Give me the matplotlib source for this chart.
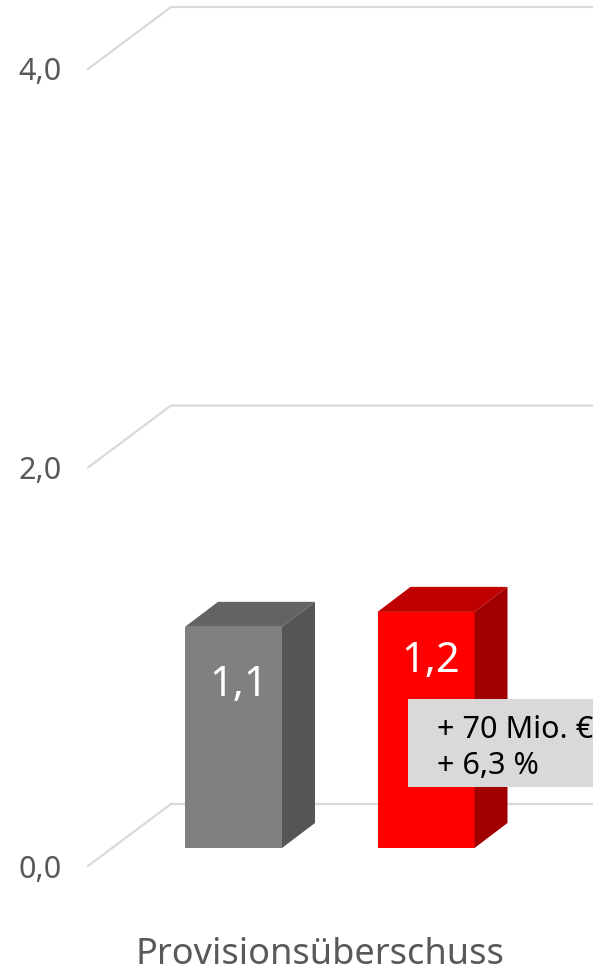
import matplotlib
matplotlib.use("Agg")
from matplotlib import pyplot as plt
from matplotlib.patches import Polygon, Rectangle

categories = ['Provisionsüberschuss']
values = [1.11, 1.185]
value_labels = ['1,1', '1,2']
ticks = [0.0, 2.0, 4.0]
tick_labels = ['0,0', '2,0', '4,0']
note_lines = ['+ 70 Mio. €', '+ 6,3 %']

W, H = 593, 972
PX_Y = 199.25   # pixels per unit on the value axis
PX_X = 192.5    # pixels between the two bars
FLOOR = 848     # pixel row of the bar foot

plt.rcParams['font.family'] = ['Noto Sans', 'DejaVu Sans']

fig = plt.figure(figsize=(W / 100, H / 100), dpi=100)
ax = fig.add_axes([0, 0, 1, 1])
ax.set_xlim(-233.5 / PX_X, (W - 233.5) / PX_X)
ax.set_ylim(-(H - FLOOR) / PX_Y, FLOOR / PX_Y)
ax.axis('off')

def dx(px):
    return px / PX_X

def dy(px):
    return px / PX_Y

# gridlines, slanted wall then back wall
for tick, label in zip(ticks, tick_labels):
    y0 = tick - dy(18)
    y1 = y0 + dy(62)
    x0 = -dx(145.5)
    x1 = -dx(62.5)
    ax.plot([x0, x1, dx(W)], [y0, y1, y1], color='#d9d9d9', lw=1.6, zorder=1)
    ax.text(x0 - dx(48), y0, label, color='#595959', fontsize=22,
            ha='center', va='center_baseline')

# 3d bars
colors = [('#808080', '#636363', '#555555'), ('#ff0000', '#c00000', '#a00000')]
label_drop = [53, 44]
half = dx(48.5)
depth_x = dx(33)
depth_y = dy(25)
for i, (val, label) in enumerate(zip(values, value_labels)):
    front, top, side = colors[i]
    ax.add_patch(Rectangle((i - half, 0), 2 * half, val, fc=front, ec='none', zorder=3))
    ax.add_patch(Polygon([(i - half, val), (i + half, val),
                          (i + half + depth_x, val + depth_y),
                          (i - half + depth_x, val + depth_y)], fc=top, ec='none', zorder=3))
    ax.add_patch(Polygon([(i + half, 0), (i + half + depth_x, depth_y),
                          (i + half + depth_x, val + depth_y),
                          (i + half, val)], fc=side, ec='none', zorder=3))
    ax.text(i + dx(5), val - dy(label_drop[i]), label, color='white', fontsize=30,
            ha='center', va='center_baseline', zorder=5)

# note box over the red bar
box_x = (408 - 233.5) / PX_X
box_y = dy(FLOOR - 787)
ax.add_patch(Rectangle((box_x, box_y), dx(185), dy(88), fc='#d9d9d9', ec='none', zorder=4))
for n, line in enumerate(note_lines):
    ax.text(box_x + dx(29), box_y + dy(60 - 36 * n), line, color='black', fontsize=22,
            ha='left', va='center_baseline', zorder=5)

ax.text((320 - 233.5) / PX_X, -dy(102), categories[0], color='#595959', fontsize=26,
        ha='center', va='center_baseline')

fig.savefig('out.png', dpi=100)
